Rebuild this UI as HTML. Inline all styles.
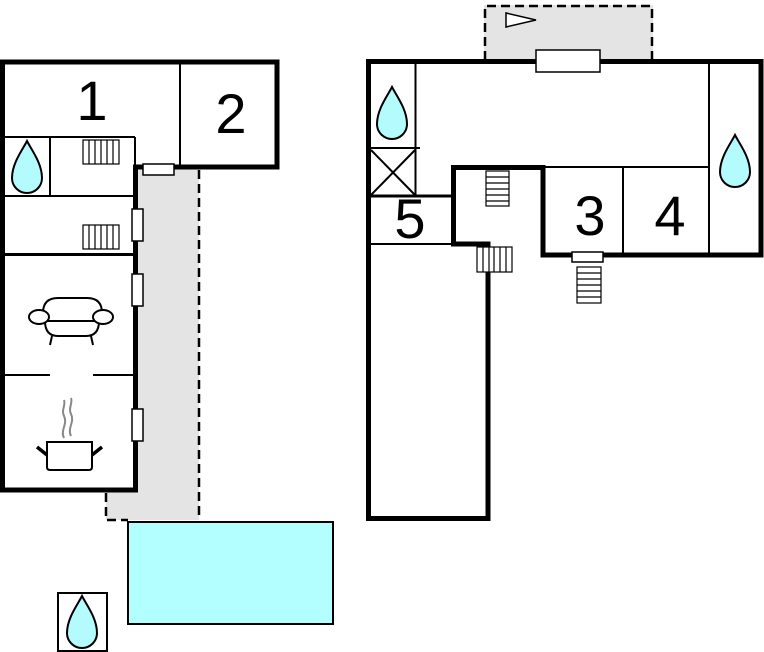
<!DOCTYPE html>
<html>
<head>
<meta charset="utf-8">
<style>
  html,body{margin:0;padding:0;background:#fff;}
  svg{display:block;}
  text{font-family:"Liberation Sans", Arial, sans-serif;font-size:56px;fill:#000;text-anchor:middle;}
</style>
</head>
<body>
<svg width="764" height="652" viewBox="0 0 764 652" xmlns="http://www.w3.org/2000/svg">
  <defs>
    <path id="drop" d="M15,0 C19,8 30,22 30,37 A15,15 0 0 1 0,37 C0,22 11,8 15,0 Z" fill="#b3fbfd" stroke="#000" stroke-width="2"/>
  </defs>

  <!-- ===== LEFT BUILDING ===== -->
  <!-- gray outdoor area -->
  <polygon points="138,167 199,167 199,520 106,520 106,492 138,492" fill="#e4e4e4"/>
  <line x1="199" y1="170" x2="199" y2="520" stroke="#000" stroke-width="2.5" stroke-dasharray="9,5"/>
  <polyline points="106,493 106,520 128,520" fill="none" stroke="#000" stroke-width="2.5" stroke-dasharray="9,5"/>

  <!-- thin interior walls -->
  <g stroke="#000" stroke-width="2" fill="none">
    <line x1="180" y1="62" x2="180" y2="167"/>
    <line x1="3" y1="137" x2="135" y2="137"/>
    <line x1="135" y1="137" x2="135" y2="167"/>
    <line x1="50" y1="137" x2="50" y2="196"/>
    <line x1="3" y1="196" x2="135" y2="196"/>
    <line x1="3" y1="254.5" x2="135" y2="254.5" stroke-width="3"/>
    <line x1="3" y1="375" x2="50" y2="375"/>
    <line x1="93" y1="375" x2="135" y2="375"/>
  </g>

  <!-- thick outer walls -->
  <path d="M2.5,62 L277,62 L277,167 L135.5,167 L135.5,490 L2.5,490 Z" fill="none" stroke="#000" stroke-width="5"/>

  <!-- doors/windows -->
  <g fill="#fff" stroke="#000" stroke-width="1.5">
    <rect x="143" y="164" width="31" height="11"/>
    <rect x="132" y="209" width="11" height="32"/>
    <rect x="132" y="274" width="11" height="32"/>
    <rect x="132" y="409" width="11" height="32"/>
  </g>

  <!-- stairs left -->
  <g fill="#fff" stroke="#000" stroke-width="1.2">
    <rect x="83" y="140" width="36" height="24"/>
    <line x1="89" y1="140" x2="89" y2="164"/><line x1="95" y1="140" x2="95" y2="164"/>
    <line x1="101" y1="140" x2="101" y2="164"/><line x1="107" y1="140" x2="107" y2="164"/>
    <line x1="113" y1="140" x2="113" y2="164"/>
    <rect x="83" y="225" width="36" height="24"/>
    <line x1="89" y1="225" x2="89" y2="249"/><line x1="95" y1="225" x2="95" y2="249"/>
    <line x1="101" y1="225" x2="101" y2="249"/><line x1="107" y1="225" x2="107" y2="249"/>
    <line x1="113" y1="225" x2="113" y2="249"/>
  </g>

  <!-- drop left building -->
  <use href="#drop" transform="translate(12,141)"/>

  <!-- sofa -->
  <g fill="#fff" stroke="#000" stroke-width="2">
    <path d="M43,313 Q43,298 58,298 L87,298 Q102,298 102,313 L102,322 L43,322 Z"/>
    <path d="M45,321 L99,321 Q99,336 86,336 L58,336 Q45,336 45,321 Z"/>
    <ellipse cx="39" cy="317" rx="10" ry="7"/>
    <ellipse cx="103" cy="317" rx="10" ry="7"/>
    <line x1="52" y1="336" x2="50" y2="345"/>
    <line x1="91" y1="336" x2="93" y2="345"/>
  </g>

  <!-- pot -->
  <g fill="none" stroke="#888" stroke-width="2">
    <path d="M64,438 C60,430 68,424 64,416 C61,410 66,405 64,400"/>
    <path d="M71,436 C67,428 75,422 71,414 C68,408 73,403 71,398"/>
  </g>
  <g stroke="#000">
    <path d="M47,442 L92,442 L92,467 Q92,470 89,470 L50,470 Q47,470 47,467 Z" fill="#fff" stroke-width="2"/>
    <line x1="37" y1="447" x2="47" y2="455" stroke-width="3.5"/>
    <line x1="92" y1="455" x2="102" y2="447" stroke-width="3.5"/>
  </g>

  <!-- numbers left -->
  <text x="92" y="120">1</text>
  <text x="231" y="133">2</text>

  <!-- pool -->
  <rect x="128" y="522" width="205" height="102" fill="#b3ffff" stroke="#000" stroke-width="2"/>

  <!-- standalone drop box -->
  <rect x="58" y="593" width="49" height="58" fill="#fff" stroke="#000" stroke-width="2"/>
  <use href="#drop" transform="translate(67,596)"/>

  <!-- ===== RIGHT BUILDING ===== -->
  <!-- top gray terrace -->
  <rect x="484" y="5" width="169" height="56" fill="#e4e4e4"/>
  <polyline points="485,60 485,6 652,6 652,60" fill="none" stroke="#000" stroke-width="2.5" stroke-dasharray="9,5"/>
  <polygon points="506,13 506,27 536,20" fill="#fff" stroke="#000" stroke-width="1.5"/>

  <!-- thin interior walls -->
  <g stroke="#000" stroke-width="2" fill="none">
    <line x1="415.5" y1="62" x2="415.5" y2="196"/>
    <line x1="366" y1="148" x2="420" y2="148"/>
    <line x1="371" y1="150" x2="415" y2="195"/>
    <line x1="415" y1="150" x2="371" y2="195"/>
    <line x1="368" y1="196" x2="453" y2="196" stroke-width="3"/>
    <line x1="368" y1="244" x2="453" y2="244"/>
    <line x1="543" y1="167" x2="709" y2="167"/>
    <line x1="623" y1="167" x2="623" y2="255"/>
    <line x1="709" y1="62" x2="709" y2="255"/>
  </g>

  <!-- thick outer walls -->
  <path d="M368.5,518.5 L368.5,61.5 L761,61.5 L761,255 L543,255 L543,167.5 L453.5,167.5 L453.5,244 L488,244 L488,518.5 Z" fill="none" stroke="#000" stroke-width="5"/>

  <!-- doors -->
  <g fill="#fff" stroke="#000" stroke-width="1.5">
    <rect x="536" y="50" width="64" height="22"/>
    <rect x="572" y="252" width="31" height="10"/>
  </g>

  <!-- stairs right -->
  <g fill="#fff" stroke="#000" stroke-width="1.2">
    <rect x="486" y="171" width="23" height="35"/>
    <line x1="486" y1="177" x2="509" y2="177"/><line x1="486" y1="183" x2="509" y2="183"/>
    <line x1="486" y1="189" x2="509" y2="189"/><line x1="486" y1="195" x2="509" y2="195"/>
    <line x1="486" y1="201" x2="509" y2="201"/>
    <rect x="477" y="247" width="35" height="25"/>
    <line x1="483" y1="247" x2="483" y2="272"/><line x1="489" y1="247" x2="489" y2="272"/>
    <line x1="494" y1="247" x2="494" y2="272"/><line x1="500" y1="247" x2="500" y2="272"/>
    <line x1="506" y1="247" x2="506" y2="272"/>
    <rect x="577" y="267" width="24" height="36"/>
    <line x1="577" y1="273" x2="601" y2="273"/><line x1="577" y1="279" x2="601" y2="279"/>
    <line x1="577" y1="285" x2="601" y2="285"/><line x1="577" y1="291" x2="601" y2="291"/>
    <line x1="577" y1="297" x2="601" y2="297"/>
  </g>

  <!-- drops right -->
  <use href="#drop" transform="translate(377,87)"/>
  <use href="#drop" transform="translate(720,135)"/>

  <!-- numbers right -->
  <text x="410" y="238">5</text>
  <text x="590" y="235">3</text>
  <text x="670" y="235">4</text>
</svg>
</body>
</html>
